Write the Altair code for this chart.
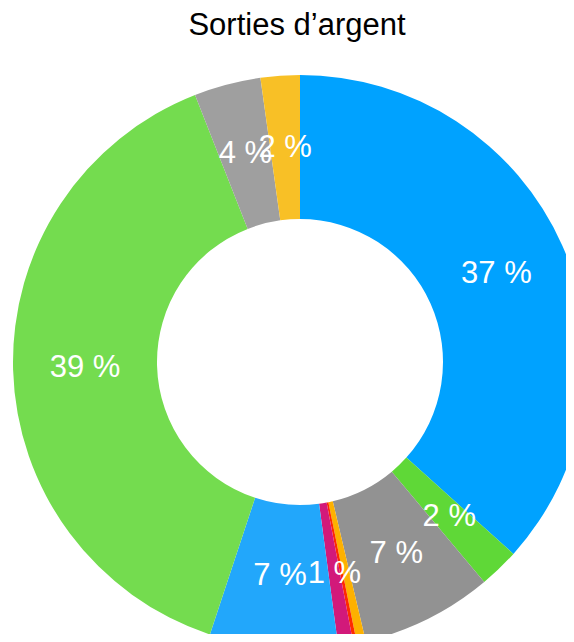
import altair as alt
import pandas as pd

categories = ["Poste 1", "Poste 2", "Poste 3", "Poste 4", "Poste 5",
              "Poste 6", "Poste 7", "Poste 8", "Poste 9", "Poste 10"]
values = [36.6, 2.25, 7.4, 0.5, 0.2, 0.85, 7.2, 38.9, 3.75, 2.2]
labels = ["37 %", "2 %", "7 %", "", "", "1 %", "7 %", "39 %", "4 %", "2 %"]
colors = ["#00A2FF", "#5FD837", "#929292", "#FDB100", "#FF2A00",
          "#D2197A", "#22A7FB", "#74DC4F", "#9F9F9F", "#F8C026"]

df = pd.DataFrame({
    "cat": categories,
    "val": values,
    "lab": labels,
    "idx": list(range(len(categories))),
})

CX, CY = 292, 304

base = alt.Chart(df).encode(
    theta=alt.Theta("val:Q", stack=True),
    order=alt.Order("idx:Q"),
    x=alt.value(CX),
    y=alt.value(CY),
)

arcs = base.mark_arc(outerRadius=287, innerRadius=143).encode(
    color=alt.Color("cat:N", scale=alt.Scale(domain=categories, range=colors), legend=None),
)

text = base.mark_text(radius=215, fontSize=31, color="white",
                      font="Liberation Sans", align="center", baseline="middle").encode(
    text="lab:N",
)

chart = alt.layer(arcs, text).properties(
    width=558,
    height=576,
    title=alt.TitleParams("Sorties d’argent", fontSize=31, font="Liberation Sans",
                          fontWeight="normal", color="black", anchor="middle",
                          frame="group", offset=16, dx=10),
    autosize=alt.AutoSizeParams(type="none"),
    padding={"left": 0, "top": 50, "right": 0, "bottom": 0},
).configure_view(stroke=None)

chart.save("out.html", embed_options={"renderer": "svg", "actions": False})
